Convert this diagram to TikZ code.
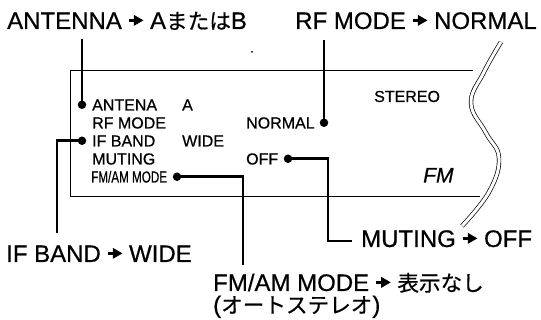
\documentclass[tikz,border=0pt]{standalone}
\usepackage{fontspec}
\setmainfont{Liberation Sans}[FakeBold=0.6]
\newfontfamily\jp[Scale=0.9,FakeBold=0.6]{Noto Sans CJK JP}
\usetikzlibrary{calc}
\newcommand{\rarr}{\tikz[baseline=0pt,x=1em,y=1em]{\fill (0,0.29) rectangle (0.3,0.43); \fill (0.22,0.13) -- (0.62,0.36) -- (0.22,0.59) -- cycle;}}
\begin{document}
\begin{tikzpicture}[x=1pt,y=-1pt,
  lbl/.style={font=\fontsize{24}{28}\selectfont, inner sep=0pt},
  lcd/.style={font=\fontsize{16}{19}\selectfont, inner sep=0pt},
  dotn/.style={circle, fill, inner sep=0pt, minimum size=8.5pt},
  conn/.style={line width=2.5pt},
  frame/.style={line width=1pt},
  brk/.style={double, double distance=3pt, line width=0.7pt}]
\useasboundingbox (0,0) rectangle (541,320);
% outer labels
\node[lbl, anchor=base west] (antl) at (7,29) {ANTENNA \rarr\ A{\jp または}B};
\node[lbl, anchor=base east] (rfl) at (537,29) {RF MODE \rarr\ NORMAL};
\node[lbl, anchor=base west] (ifl) at (6,262) {IF BAND \rarr\ WIDE};
\node[lbl, anchor=base west] (mul) at (361,247) {MUTING \rarr\ OFF};
\node[lbl, anchor=base west] (fml) at (213,291) {FM/AM MODE \rarr\ {\jp 表示なし}};
\node[lbl, anchor=base west] (fml2) at (213,313) {({\jp オートステレオ})};
% display frame
\draw[frame] (473,71) -- (70,71) -- (70,197) -- (480,197);
\draw[brk] plot[smooth, tension=0.7] coordinates {(501,42) (484,72) (471,103) (486,133) (499,158) (489,192) (462,226)};
\fill (252,52) circle (1pt);
% display texts
\node[lcd, anchor=base west] (t1) at (92,110.5) {ANTENA};
\node[lcd, anchor=base west] (v1) at (182,110.5) {A};
\node[lcd, anchor=base west] (t2) at (92,128.5) {RF MODE};
\node[lcd, anchor=base west] (v2) at (246,128.5) {NORMAL};
\node[lcd, anchor=base west] (t3) at (92,146.5) {IF BAND};
\node[lcd, anchor=base west] (v3) at (182,146.5) {WIDE};
\node[lcd, anchor=base west] (t4) at (92,164.5) {MUTING};
\node[lcd, anchor=base west] (v4) at (246,164.5) {OFF};
\node[lcd, anchor=base west] (t5) at (91,182.5) {\scalebox{0.73}[1]{FM/AM MODE}};
\node[lcd, anchor=base west] (st) at (374,102) {STEREO};
\node[anchor=base west, inner sep=0pt, font=\fontsize{21}{25}\selectfont\itshape] (fm) at (423,182.5) {FM};
% dots
\node[dotn] (d1) at (82,104.75) {};
\node[dotn] (d2) at (324,122.75) {};
\node[dotn] (d3) at (82,140.75) {};
\node[dotn] (d4) at (288,158.75) {};
\node[dotn] (d5) at (177,176.75) {};
% connectors
\coordinate (a1) at (82,39);
\coordinate (a2) at (324,40);
\coordinate (a3) at (57,233);
\coordinate (k4) at (328,241);
\coordinate (a4) at (352,241);
\coordinate (a5) at (243,265);
\draw[conn] (a1) -- (d1.center);
\draw[conn] (a2) -- (d2.center);
\draw[conn] (d3.center) -| (a3);
\draw[conn] (d4.center) -| (k4) -- (a4);
\draw[conn] (d5.center) -| (a5);
\end{tikzpicture}
\end{document}
